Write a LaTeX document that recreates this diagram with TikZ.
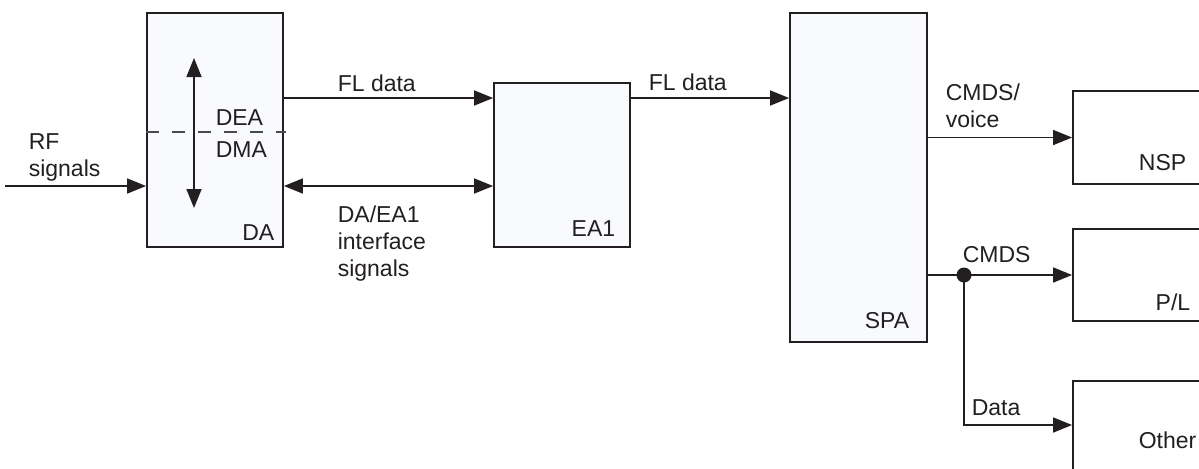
\documentclass[tikz,border=0pt]{standalone}
\usepackage{fontspec}
\setmainfont{Liberation Sans}
\usetikzlibrary{arrows.meta}
\definecolor{palido}{HTML}{F9FAFE}
\definecolor{linea}{HTML}{231F20}
\definecolor{gris}{HTML}{4A4A4A}

\begin{document}
\begin{tikzpicture}[x=0.5pt, y=-0.5pt, font=\fontsize{11.5}{13.5}\selectfont,
    color=linea, line width=0.8pt,
    caja/.style={draw=linea, line width=0.9pt, inner sep=0pt},
    flecha/.style={-{Triangle[length=9.5pt,width=7.5pt]}},
    doble/.style={{Triangle[length=9.5pt,width=7.5pt]}-{Triangle[length=9.5pt,width=7.5pt]}},
    txt/.style={inner sep=0pt, align=left}]
    \useasboundingbox (0,0) rectangle (1199,468);
    \clip (0,0) rectangle (1199,468);
    % bloques
    \node[caja, fill=palido, minimum width=68pt, minimum height=117pt] (da) at (215,130) {};
    \node[caja, fill=palido, minimum width=68pt, minimum height=82pt] (ea) at (562,165) {};
    \node[caja, fill=palido, minimum width=68.5pt, minimum height=164.5pt] (spa) at (858.5,177.5) {};
    \node[caja, fill=white, minimum width=90pt, minimum height=46.5pt] (nsp) at (1163,137.5) {};
    \node[caja, fill=white, minimum width=90pt, minimum height=46pt] (pl) at (1163,275) {};
    \node[caja, fill=white, minimum width=90pt, minimum height=47pt] (other) at (1163,428) {};
    \node[txt, anchor=base east] (daname) at (275,240) {DA};
    \node[txt, anchor=base east] (eaname) at (616,236) {EA1};
    \node[txt, anchor=base east] (spaname) at (910,328) {SPA};
    \node[txt, anchor=base east] (nspname) at (1187,170) {NSP};
    \node[txt, anchor=base east] (plname) at (1191,310) {P/L};
    \node[txt, anchor=base west] (othername) at (1138,448) {Other};
    % interior de DA
    \draw[gris, dash pattern=on 6.5pt off 6.5pt] (da.west |- 0,132) -- ([xshift=1pt]da.east |- 0,132);
    \coordinate (arriba) at (194,58);
    \coordinate (abajo) at (194,208);
    \draw[doble] (arriba) -- (abajo);
    \node[txt, anchor=base west] (dea) at (215,125) {DEA};
    \node[txt, anchor=base west] (dma) at (215,157) {DMA};
    % senales
    \coordinate (rf) at (5,186);
    \node[txt, anchor=north west] (rflab) at (28,133) {RF\\signals};
    \draw[flecha] (rf) -- (rf -| da.west);
    \draw[flecha] (da.east |- 0,98) -- (ea.west |- 0,98);
    \node[txt, anchor=base west] (fl1) at (337,91) {FL data};
    \draw[doble] (da.east |- rf) -- (ea.west |- rf);
    \node[txt, anchor=north west] (ifz) at (337,205) {DA/EA1\\interface\\signals};
    \draw[flecha] (ea.east |- 0,98) -- (spa.west |- 0,98);
    \node[txt, anchor=base west] (fl2) at (648,90) {FL data};
    \draw[flecha] (spa.east |- nsp.west) -- (nsp.west);
    \node[txt, anchor=north west] (voz) at (945,83) {CMDS/\\voice};
    \coordinate (rama) at (964,275);
    \draw[flecha] (spa.east |- pl.west) -- (pl.west);
    \node[txt, anchor=base west] (cmds) at (962,262) {CMDS};
    \draw[flecha] (rama) |- (other.west |- 0,425);
    \fill (rama) circle (3.75pt);
    \node[txt, anchor=base west] (datos) at (971,415) {Data};
\end{tikzpicture}
\end{document}
